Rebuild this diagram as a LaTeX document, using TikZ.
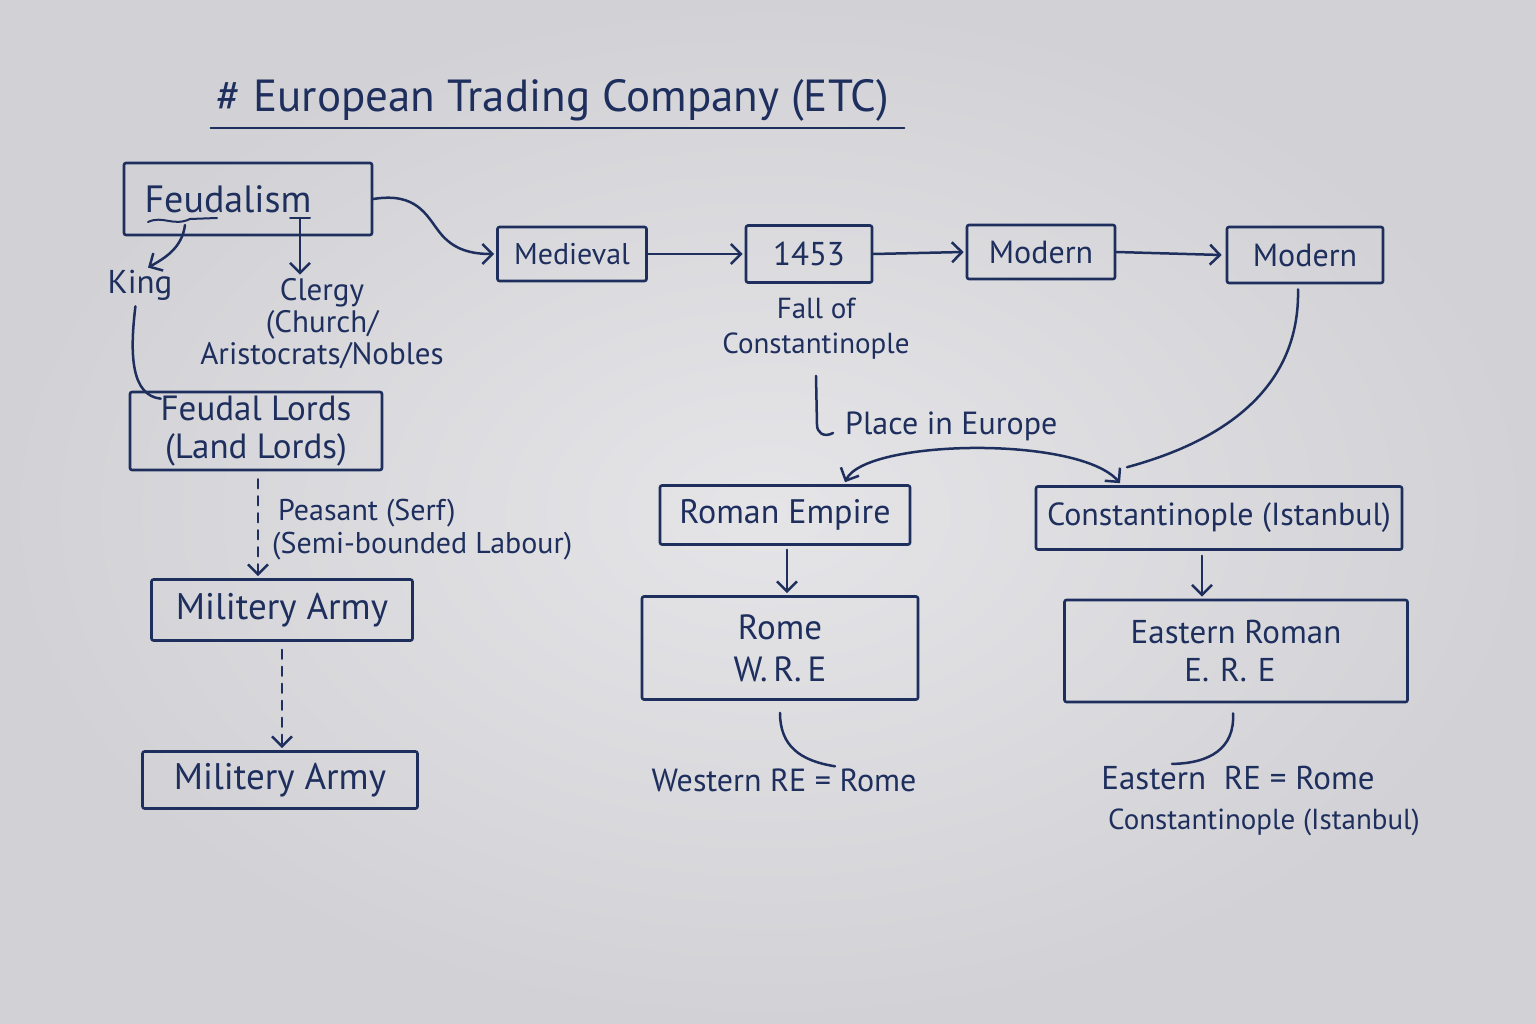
\documentclass[tikz,border=0pt]{standalone}
\usepackage{fontspec}
\setmainfont{PT Sans}
\usetikzlibrary{arrows.meta,calc}
\definecolor{ink}{HTML}{1E2F5E}
\definecolor{paperin}{HTML}{E5E5E8}
\definecolor{paperout}{HTML}{D2D2D6}
\newcommand\fsz[2]{\fontsize{#1}{#2}\selectfont}
\begin{document}
\begin{tikzpicture}[x=1pt,y=-1pt,
  box/.style={draw=ink, line width=2.6pt, text=ink, rounded corners=2pt, inner sep=0pt, align=center, font=\fsz{30}{40}},
  lbl/.style={text=ink, inner sep=0pt, align=center, font=\fsz{30}{34}},
  conn/.style={draw=ink, line width=2.5pt, line cap=round},
  arr/.style={conn, -{Straight Barb[length=10pt,width=20pt,line width=2.5pt]}},
  dsh/.style={arr, dash pattern=on 9pt off 8pt},
]
\useasboundingbox (0,0) rectangle (1536,1024);
\shade[inner color=paperin, outer color=paperout] (0,0) rectangle (1536,1024);

% title
\node[lbl, font=\fsz{45}{50}] (title) at (553,100) {\# European Trading Company (ETC)};
\draw[conn, line width=2.2pt] ($(title.south west)+(-6,7)$) -- ($(title.south east)+(15,7)$);

% left column
\node[box, minimum width=248pt, minimum height=72pt, font=\fsz{38}{44}] (feud) at (248,199) {Feudalism\hspace*{40pt}};
\draw[conn, line width=2pt] ($(feud)+(-100,23)$) .. controls ($(feud)+(-85,16)$) and ($(feud)+(-75,28)$) .. ($(feud)+(-58,20)$) -- ($(feud)+(-31,19)$);
\draw[conn, line width=2pt] ($(feud)+(42,19)$) -- ($(feud)+(62,19)$);
\node[lbl, font=\fsz{33}{36}] (king) at (140,285) {King};
\node[lbl, font=\fsz{31}{32}] (clergy) at (322,324) {Clergy\\(Church/\\Aristocrats/Nobles};
\draw[arr] ($(feud)+(-63,26)$) .. controls ($(feud)+(-66,49)$) and ($(feud)+(-83,59)$) .. ($(king.north)+(8,-2)$);
\draw[arr] ($(feud)+(52,19)$) -- ($(clergy.north -| 300,0)+(0,-4)$);

\node[box, minimum width=252pt, minimum height=78pt, font=\fsz{35}{38}] (fl) at (256,431) {Feudal Lords\\(Land Lords)};
\draw[conn] ($(king.south west)+(28,6)$) .. controls ($(king.south west)+(22,55)$) and ($(king.south west)+(24,95)$) .. ($(fl.north west)+(32,8)$);

\node[box, minimum width=261pt, minimum height=61pt, font=\fsz{37}{40}] (mil1) at (282,610) {Militery Army};
\draw[dsh] ($(fl.south)+(2,8)$) -- ($(mil1.north)+(-24,-2)$);
\node[lbl, anchor=west, align=left, font=\fsz{30}{33}] (peas) at (272,530) {\hspace*{6pt}Peasant (Serf)\\(Semi-bounded Labour)};

\node[box, minimum width=275pt, minimum height=57pt, font=\fsz{37}{40}] (mil2) at (280,780) {Militery Army};
\draw[dsh] ($(mil1.south)+(0,8)$) -- ($(mil1.south |- mil2.north)+(0,-2)$);

% top row
\node[box, minimum width=149pt, minimum height=54pt, font=\fsz{30}{34}] (med) at (572,254) {Medieval};
\node[box, minimum width=126pt, minimum height=57pt, font=\fsz{33}{34}] (y1453) at (809,254) {1453};
\node[box, minimum width=148pt, minimum height=54pt, font=\fsz{32}{34}] (mod1) at (1041,252) {Modern};
\node[box, minimum width=156pt, minimum height=56pt, font=\fsz{32}{34}] (mod2) at (1305,255) {Modern};
\draw[arr] (feud.east) .. controls ($(feud.east)+(43,-7)$) and ($(feud.east)+(53,16)$) .. ($(feud.east)+(66,33)$) .. controls ($(feud.east)+(80,51)$) and ($(feud.east)+(98,55)$) .. ($(med.west)+(-2,0)$);
\draw[arr] (med.east) -- ($(y1453.west)+(-2,0)$);
\draw[arr] (y1453.east) -- ($(mod1.west)+(-2,0)$);
\draw[arr] (mod1.east) -- ($(mod2.west)+(-4,0)$);

\node[lbl, font=\fsz{29}{35}] (fall) at (816,329) {Fall of\\Constantinople};
\node[lbl, anchor=west, font=\fsz{32}{34}] (place) at (845,426) {Place in Europe};
\draw[conn] ($(fall.south)+(0,16)$) -- ($(fall.south)+(1,65)$) .. controls ($(fall.south)+(1,73)$) and ($(fall.south)+(8,78)$) .. ($(place.west)+(-12,7)$);

% right structure
\node[box, minimum width=250pt, minimum height=59pt, font=\fsz{34}{36}] (roman) at (785,515) {Roman Empire};
\node[box, minimum width=366pt, minimum height=63pt, font=\fsz{32}{36}] (const) at (1219,518) {Constantinople (Istanbul)};
\draw[conn] ($(mod2.south)+(-7,5)$) .. controls ($(mod2.south)+(-5,100)$) and ($(mod2.south)+(-75,155)$) .. ($(const.north)+(-92,-18)$);
\draw[conn, {Straight Barb[length=10pt,width=20pt,line width=2.5pt]}-{Straight Barb[length=10pt,width=20pt,line width=2.5pt]}] ($(roman.north)+(60,-2)$) .. controls ($(roman.north)+(80,-45)$) and ($(const.north)+(-140,-50)$) .. ($(const.north)+(-99,-2)$);

\node[box, minimum width=276pt, minimum height=103pt, font=\fsz{35}{42}] (rome) at (780,648) {Rome\\W.\,R.\,E};
\node[box, minimum width=343pt, minimum height=102pt, font=\fsz{33}{38}] (ere) at (1236,651) {Eastern Roman\\\hspace*{-12pt}E.\,\,R.\,\,E};
\draw[arr] ($(roman.south)+(2,4)$) -- ($(roman.south |- rome.north)+(2,-2)$);
\draw[arr] ($(const.south)+(-17,5)$) -- ($(const.south |- ere.north)+(-17,-2)$);

\node[lbl, font=\fsz{32}{34}] (west) at (784,780) {Western RE = Rome};
\node[lbl, font=\fsz{33}{34}] (east) at (1238,778) {Eastern\ \ RE = Rome};
\node[lbl, font=\fsz{29}{34}] (eastc) at (1264,822) {Constantinople (Istanbul)};
\draw[conn] ($(rome.south)+(0,12)$) .. controls ($(rome.south)+(0,45)$) and ($(rome.south)+(20,60)$) .. ($(west.north)+(51,-2)$);
\draw[conn] ($(ere.south)+(-3,10)$) .. controls ($(ere.south)+(-1,45)$) and ($(ere.south)+(-26,60)$) .. ($(east.north)+(-66,-2)$);
\end{tikzpicture}
\end{document}
